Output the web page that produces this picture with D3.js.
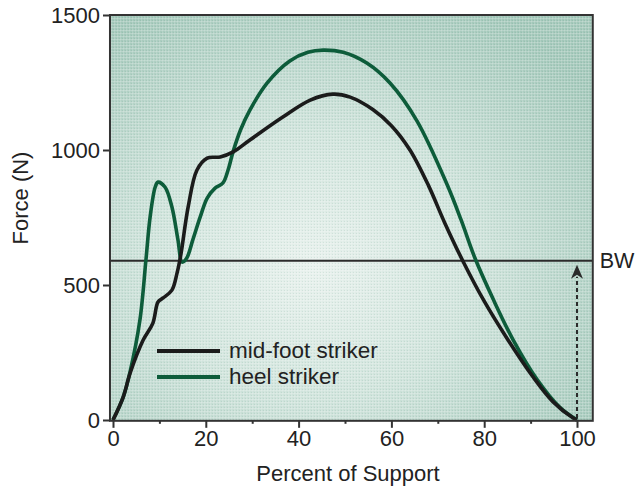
<!DOCTYPE html>
<html>
<head>
<meta charset="utf-8">
<script src="https://cdn.jsdelivr.net/npm/d3@7/dist/d3.min.js"></script>
<style>
  html, body { margin: 0; padding: 0; background: #fff; }
  svg { display: block; }
  text { font-family: "Liberation Sans", Arial, Helvetica, sans-serif; fill: #222; }
</style>
</head>
<body>
<svg id="chart" width="639" height="488"></svg>
<script>
// ---- data ----
const midPct   = [0, 2.2, 3.7, 6.5, 8.6, 9.7, 10.8, 12.7, 13.8, 14.6, 16.2, 18.1, 20.3, 23.1, 25.9, 29.5, 36.6, 42.5, 47.4, 51.1, 56.0, 60.0, 64.0, 68.0, 71.5, 75.4, 80.0, 85.0, 90.5, 94.8, 99.1, 100];
const midForce = [0, 85, 174, 296, 359, 437, 452, 481, 544, 610, 789, 926, 970, 974, 993, 1037, 1122, 1185, 1207, 1196, 1150, 1090, 1000, 868, 730, 589, 440, 300, 160, 68, 8, 0];

const heelPct   = [0, 2.2, 3.7, 5.8, 7.1, 8.0, 9.1, 9.7, 11.2, 12.7, 14.0, 14.9, 15.9, 17.2, 18.8, 20.3, 22.0, 23.7, 24.8, 25.9, 27.5, 29.5, 33.2, 38.1, 42.0, 45.3, 49.6, 54.7, 59.7, 65.5, 72.0, 75.0, 78.0, 82.0, 86.2, 91.4, 96.3, 100];
const heelForce = [0, 85, 180, 370, 593, 752, 863, 881, 863, 789, 667, 585, 600, 667, 752, 822, 859, 878, 926, 995, 1075, 1148, 1248, 1330, 1362, 1370, 1362, 1322, 1248, 1108, 872, 742, 600, 445, 298, 150, 47, 0];

const bodyWeight = 590;
const xTicks = [0, 20, 40, 60, 80, 100];
const xMinorTicks = [10, 30, 50, 70, 90];
const yTicks = [0, 500, 1000, 1500];
const seriesNames = ["mid-foot striker", "heel striker"];
const seriesColors = ["#1b1b1b", "#0d5c3a"];

// ---- scales ----
const svg = d3.select("#chart");
const x = d3.scaleLinear().domain([0, 100]).range([113, 577]);
const y = d3.scaleLinear().domain([0, 1500]).range([420, 15]);
const frameX0 = x(-0.65), frameX1 = x(103.4), frameY0 = y(1500), frameY1 = y(-3);

// ---- background ----
const defs = svg.append("defs");
const grad = defs.append("radialGradient").attr("id", "bg")
  .attr("cx", "0.42").attr("cy", "0.62").attr("r", "0.72");
grad.append("stop").attr("offset", "0").attr("stop-color", "#e8f1ed");
grad.append("stop").attr("offset", "0.45").attr("stop-color", "#cfe3db");
grad.append("stop").attr("offset", "1").attr("stop-color", "#a2c7b9");

const pat = defs.append("pattern").attr("id", "tex").attr("patternUnits", "userSpaceOnUse")
  .attr("width", 3).attr("height", 3);
pat.append("rect").attr("x", 0).attr("y", 0).attr("width", 3).attr("height", 1).attr("fill", "#ffffff").attr("opacity", 0.2);
pat.append("rect").attr("x", 0).attr("y", 0).attr("width", 1).attr("height", 3).attr("fill", "#ffffff").attr("opacity", 0.15);
pat.append("rect").attr("x", 2).attr("y", 2).attr("width", 1).attr("height", 1).attr("fill", "#4e8a76").attr("opacity", 0.12);

svg.append("rect").attr("x", frameX0).attr("y", frameY0)
  .attr("width", frameX1 - frameX0).attr("height", frameY1 - frameY0)
  .attr("fill", "url(#bg)");
svg.append("rect").attr("x", frameX0).attr("y", frameY0)
  .attr("width", frameX1 - frameX0).attr("height", frameY1 - frameY0)
  .attr("fill", "url(#tex)");

// ---- body weight line ----
svg.append("line")
  .attr("x1", frameX0).attr("x2", frameX1)
  .attr("y1", y(bodyWeight)).attr("y2", y(bodyWeight))
  .attr("stroke", "#2b2b2b").attr("stroke-width", 2);
svg.append("text").attr("x", frameX1 + 7).attr("y", y(bodyWeight) + 7.5)
  .attr("font-size", 21.5).text("BW");

// ---- dashed arrow at 100% ----
svg.append("line")
  .attr("x1", x(100)).attr("x2", x(100))
  .attr("y1", y(0) - 2).attr("y2", y(bodyWeight) + 16)
  .attr("stroke", "#2b2b2b").attr("stroke-width", 2)
  .attr("stroke-dasharray", "4,3");
svg.append("path")
  .attr("d", `M${x(100)},${y(bodyWeight) + 4} L${x(100) - 6},${y(bodyWeight) + 18} L${x(100)},${y(bodyWeight) + 14} L${x(100) + 6},${y(bodyWeight) + 18} Z`)
  .attr("fill", "#2b2b2b");

// ---- curves ----
const line = d3.line().x(d => x(d[0])).y(d => y(d[1])).curve(d3.curveCatmullRom.alpha(0.5));
const heel = heelPct.map((p, i) => [p, heelForce[i]]);
const mid = midPct.map((p, i) => [p, midForce[i]]);

svg.append("path").datum(heel).attr("d", line)
  .attr("fill", "none").attr("stroke", seriesColors[1]).attr("stroke-width", 3.6)
  .attr("stroke-linejoin", "round");
svg.append("path").datum(mid).attr("d", line)
  .attr("fill", "none").attr("stroke", seriesColors[0]).attr("stroke-width", 3.6)
  .attr("stroke-linejoin", "round");

// ---- frame ----
svg.append("rect").attr("x", frameX0).attr("y", frameY0)
  .attr("width", frameX1 - frameX0).attr("height", frameY1 - frameY0)
  .attr("fill", "none").attr("stroke", "#333").attr("stroke-width", 2);

// ---- axes ----
const fmt = d3.format("d");
const xAxis = d3.axisBottom(x).tickValues(xTicks).tickFormat(fmt).tickSize(7).tickSizeOuter(0).tickPadding(3);
const gx = svg.append("g").attr("transform", `translate(0,${frameY1})`).call(xAxis);
gx.select(".domain").remove();
gx.selectAll(".tick line").attr("stroke", "#333").attr("stroke-width", 2);
gx.selectAll(".tick text").attr("font-size", 22).attr("fill", "#222")
  .attr("font-family", "Liberation Sans, Arial, sans-serif");

const xMinor = d3.axisBottom(x).tickValues(xMinorTicks).tickSize(3).tickSizeOuter(0).tickFormat("");
const gxm = svg.append("g").attr("transform", `translate(0,${frameY1})`).call(xMinor);
gxm.select(".domain").remove();
gxm.selectAll(".tick line").attr("stroke", "#333").attr("stroke-width", 2);

const yAxis = d3.axisLeft(y).tickValues(yTicks).tickFormat(fmt).tickSize(7).tickSizeOuter(0).tickPadding(3);
const gy = svg.append("g").attr("transform", `translate(${frameX0},0)`).call(yAxis);
gy.select(".domain").remove();
gy.selectAll(".tick line").attr("stroke", "#333").attr("stroke-width", 2);
gy.selectAll(".tick text").attr("font-size", 22).attr("fill", "#222")
  .attr("font-family", "Liberation Sans, Arial, sans-serif");

// ---- axis titles ----
svg.append("text").attr("x", 348).attr("y", 481).attr("text-anchor", "middle")
  .attr("font-size", 22).text("Percent of Support");
svg.append("text").attr("transform", "translate(28,198) rotate(-90)")
  .attr("text-anchor", "middle").attr("font-size", 22).text("Force (N)");

// ---- legend ----
const legY = [351, 377];
seriesNames.forEach((name, i) => {
  svg.append("line").attr("x1", 157).attr("x2", 220)
    .attr("y1", legY[i]).attr("y2", legY[i])
    .attr("stroke", seriesColors[i]).attr("stroke-width", 4);
  svg.append("text").attr("x", 229).attr("y", legY[i] + 7)
    .attr("font-size", 22.5).text(name);
});
</script>
</body>
</html>
